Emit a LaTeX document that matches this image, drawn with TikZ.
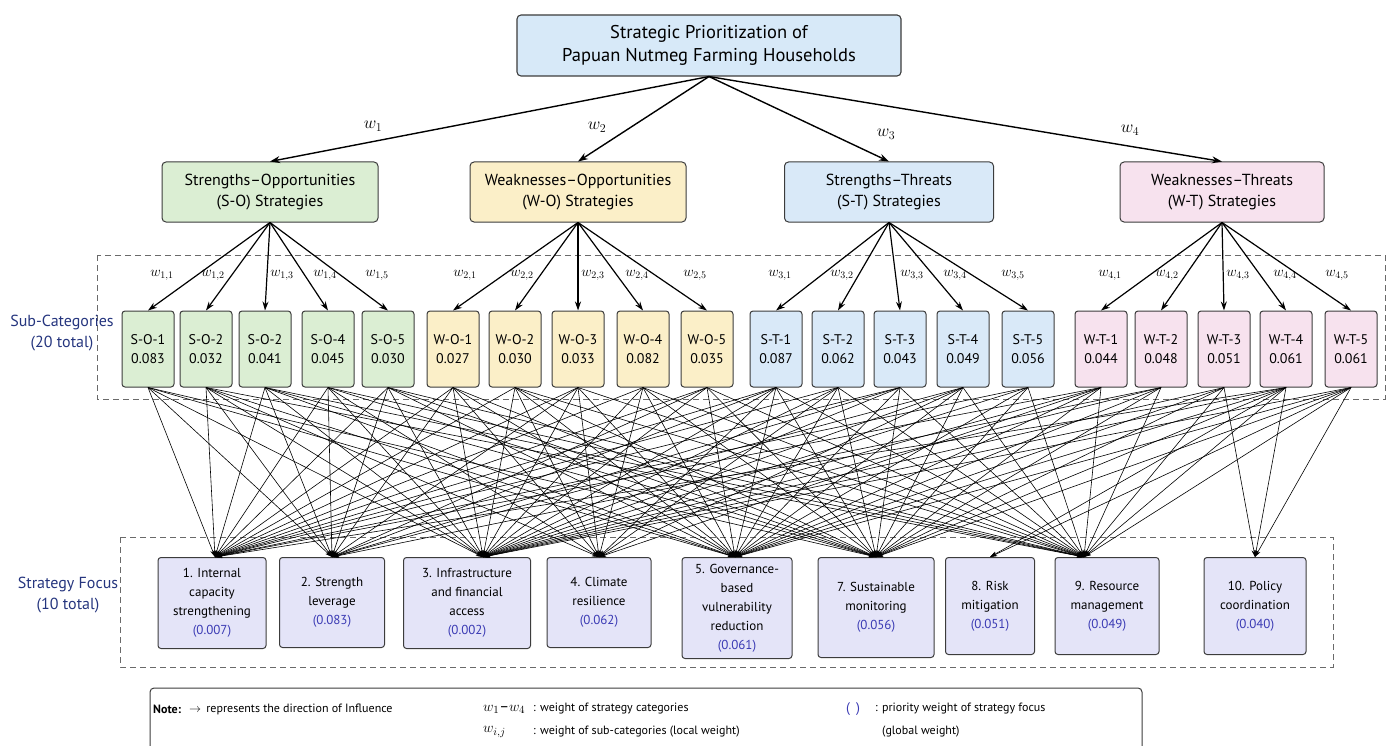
\documentclass[tikz,border=0pt]{standalone}
\usepackage{fontspec}
\setmainfont{PT Sans}
\usetikzlibrary{arrows.meta}

\definecolor{boxline}{HTML}{3C3C3C}
\definecolor{topfill}{HTML}{D7E9F8}
\definecolor{sofill}{HTML}{DBEED3}
\definecolor{wofill}{HTML}{FBEFC8}
\definecolor{stfill}{HTML}{D9E9F8}
\definecolor{wtfill}{HTML}{F7E2EE}
\definecolor{focusfill}{HTML}{E4E4F8}
\definecolor{framegray}{HTML}{6A6A6A}
\definecolor{navy}{HTML}{25357E}
\definecolor{valblue}{HTML}{3A3AB4}

\tikzset{
  topbox/.style={draw=boxline, fill=topfill, rounded corners=4pt, line width=1.1pt, align=center,
    font=\fontsize{18.5}{23}\selectfont, minimum width=384pt, minimum height=61pt, inner sep=0pt},
  catbox/.style={draw=boxline, rounded corners=4pt, line width=1pt, align=center,
    font=\fontsize{16}{21}\selectfont, minimum height=60pt, inner sep=0pt},
  subbox/.style={draw=boxline, rounded corners=3pt, line width=1pt, align=center,
    font=\fontsize{14}{19}\selectfont, minimum width=52pt, minimum height=76pt, inner sep=0pt},
  focusbox/.style={draw=boxline, fill=focusfill, rounded corners=3pt, line width=1pt, align=center,
    font=\fontsize{13}{19}\selectfont, inner sep=0pt, anchor=north},
  wlab/.style={font=\fontsize{18}{18}\selectfont},
  wsublab/.style={font=\fontsize{14.5}{14.5}\selectfont},
  mainarr/.style={-{Stealth[length=10pt,width=7pt]}, line width=1.4pt},
  subarr/.style={-{Stealth[length=9pt,width=6pt]}, line width=1.2pt},
  linkarr/.style={-{Stealth[length=7pt,width=4.5pt]}, line width=0.6pt},
  grpframe/.style={draw=framegray, dash pattern=on 6pt off 4pt, line width=0.9pt},
  sidelab/.style={text=navy, align=center, font=\fontsize{16}{21}\selectfont},
  notetext/.style={anchor=west, inner sep=0pt, font=\fontsize{12}{14}\selectfont}
}

\begin{document}
\begin{tikzpicture}[x=1pt, y=-1pt]
        \useasboundingbox (0,0) rectangle (1388,746);
        \clip (0,0) rectangle (1388,746);

        % Goal
        \node[topbox] (goal) at (709,45.5) {Strategic Prioritization of\\Papuan Nutmeg Farming Households};

        % Strategy categories
        \node[catbox, fill=sofill, minimum width=216pt] (so) at (270,192) {Strengths--Opportunities\\(S-O) Strategies};
        \node[catbox, fill=wofill, minimum width=216pt] (wo) at (578,192) {Weaknesses--Opportunities\\(W-O) Strategies};
        \node[catbox, fill=stfill, minimum width=209pt] (st) at (889,192) {Strengths--Threats\\(S-T) Strategies};
        \node[catbox, fill=wtfill, minimum width=204pt] (wt) at (1222,192) {Weaknesses--Threats\\(W-T) Strategies};

        \draw[mainarr] (goal.south) -- (so.north);
        \draw[mainarr] (goal.south) -- (wo.north);
        \draw[mainarr] (goal.south) -- (st.north);
        \draw[mainarr] (goal.south) -- (wt.north);

        \node[wlab] (w1) at (373,126) {$w_1$};
        \node[wlab] (w2) at (597,127) {$w_2$};
        \node[wlab] (w3) at (886,134) {$w_3$};
        \node[wlab] (w4) at (1130,130) {$w_4$};

        % Frames
        \draw[grpframe] (97,255) rectangle (1385,399);
        \draw[grpframe] (120,537) rectangle (1333,667);
        \node[sidelab] (subcat) at (62,333) {Sub-Categories\\(20 total)};
        \node[sidelab] (focuslab) at (68,595) {Strategy Focus\\(10 total)};

        % Sub-categories
        \foreach \i/\x/\lab/\val/\col in {
            1/148/S-O-1/0.083/sofill, 2/206/S-O-2/0.032/sofill, 3/265/S-O-2/0.041/sofill,
            4/328/S-O-4/0.045/sofill, 5/388/S-O-5/0.030/sofill,
            6/453/W-O-1/0.027/wofill, 7/515/W-O-2/0.030/wofill, 8/578/W-O-3/0.033/wofill,
            9/643/W-O-4/0.082/wofill, 10/707/W-O-5/0.035/wofill,
            11/776/S-T-1/0.087/stfill, 12/838/S-T-2/0.062/stfill, 13/900/S-T-3/0.043/stfill,
            14/963/S-T-4/0.049/stfill, 15/1028/S-T-5/0.056/stfill,
            16/1101/W-T-1/0.044/wtfill, 17/1161/W-T-2/0.048/wtfill, 18/1224/W-T-3/0.051/wtfill,
            19/1286/W-T-4/0.061/wtfill, 20/1351/W-T-5/0.061/wtfill}
            \node[subbox, fill=\col] (s\i) at (\x,349) {\lab\\\val};

        \foreach \c/\a in {so/1, wo/6, st/11, wt/16}
            \foreach \k in {0,...,4} {
                \pgfmathtruncatemacro\j{\a+\k}
                \draw[subarr] (\c.south) -- (s\j.north);
            }

        % Local weights
        \foreach \x/\i/\j in {162/1/1, 213/1/2, 282/1/3, 325/1/4, 377/1/5,
                              465/2/1, 522/2/2, 593/2/3, 637/2/4, 695/2/5,
                              780/3/1, 842/3/2, 912/3/3, 955/3/4, 1013/3/5,
                              1110/4/1, 1167/4/2, 1238/4/3, 1285/4/4, 1337/4/5}
            \node[wsublab] (wl\i\j) at (\x,275) {$w_{\i,\j}$};

        % Strategy focus
        \node[focusbox, minimum width=108pt, minimum height=91pt] (f1) at (212,557) {1. Internal\\capacity\\strengthening\\\textcolor{valblue}{(0.007)}};
        \node[focusbox, minimum width=105pt, minimum height=90pt] (f2) at (332,557) {2. Strength\\leverage\\\textcolor{valblue}{(0.083)}};
        \node[focusbox, minimum width=127pt, minimum height=91pt] (f3) at (467,557) {3. Infrastructure\\and financial\\access\\\textcolor{valblue}{(0.002)}};
        \node[focusbox, minimum width=104pt, minimum height=90pt] (f4) at (599,557) {4. Climate\\resilience\\\textcolor{valblue}{(0.062)}};
        \node[focusbox, minimum width=110pt, minimum height=101pt] (f5) at (737,557) {5. Governance-\\based\\vulnerability\\reduction\\\textcolor{valblue}{(0.061)}};
        \node[focusbox, minimum width=116pt, minimum height=100pt] (f7) at (876,557) {7. Sustainable\\monitoring\\\textcolor{valblue}{(0.056)}};
        \node[focusbox, minimum width=89pt, minimum height=97pt] (f8) at (990,557) {8. Risk\\mitigation\\\textcolor{valblue}{(0.051)}};
        \node[focusbox, minimum width=104pt, minimum height=97pt] (f9) at (1107,557) {9. Resource\\management\\\textcolor{valblue}{(0.049)}};
        \node[focusbox, minimum width=102pt, minimum height=97pt] (f10) at (1255,557) {10. Policy\\coordination\\\textcolor{valblue}{(0.040)}};

        \foreach \f/\dx in {1/3, 2/0, 3/16, 4/0, 5/-2, 7/0, 8/0, 9/-23, 10/0}
            \coordinate (in\f) at ([xshift=\dx pt]f\f.north);

        % Influence links
        \foreach \s/\tl in {1/{1,2,3,5,7}, 2/{1,2,3,4,5,9}, 3/{1,2,3,5,7,9}, 4/{1,2,3,4,7,9},
                            5/{1,2,3,5,7,9}, 6/{1,2,3,4,5,7}, 7/{1,3,4,5,7,9}, 8/{1,2,3,4,5,9},
                            9/{1,3,4,5,7,9}, 10/{1,2,3,5,7,9}, 11/{1,2,3,4,5,7,9}, 12/{1,3,4,5,7,9},
                            13/{1,2,3,5,7,9}, 14/{2,3,4,5,7,9}, 15/{1,3,5,7,9}, 16/{1,3,4,5,7,9},
                            17/{2,3,5,7,9}, 18/{3,5,7,9,10}, 19/{1,3,5,7,8,9,10}, 20/{3,5,7,8,9,10}}
            \foreach \t in \tl
                \draw[linkarr] (s\s.south) -- (in\t);

        % Note
        \draw[draw=boxline, line width=1pt, rounded corners=4pt] (150,688) rectangle (1142,770);
        \node[notetext] (notehd) at (153,709) {\textbf{Note:}};
        \node[notetext] (notearr) at (189,709) {$\rightarrow$\, represents the direction of Influence};
        \node[notetext, font=\fontsize{15}{15}\selectfont] (notew) at (483,709) {$w_1$--$w_4$};
        \node[notetext] (notewtxt) at (533,709) {: weight of strategy categories};
        \node[notetext, font=\fontsize{15}{15}\selectfont] (notewij) at (483,732) {$w_{i,j}$};
        \node[notetext] (notewijtxt) at (533,732) {: weight of sub-categories (local weight)};
        \node[notetext, text=valblue, font=\fontsize{14}{14}\selectfont] (notepar) at (846,709) {(\hspace{6pt})};
        \node[notetext] (noteprio) at (875,709) {: priority weight of strategy focus};
        \node[notetext] (noteglob) at (882,732) {(global weight)};
\end{tikzpicture}
\end{document}
